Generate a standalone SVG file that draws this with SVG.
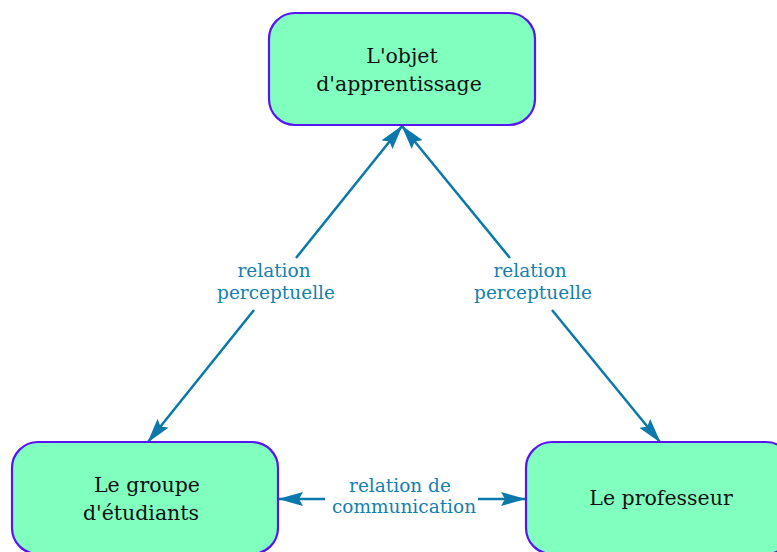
<svg xmlns="http://www.w3.org/2000/svg" width="777" height="552" viewBox="0 0 777 552">
<style>
.node rect{fill:#80ffbf;stroke:#5a14f0;stroke-width:2.2}
.node text{font-family:"DejaVu Serif","Liberation Serif",serif;font-size:20.5px;fill:#111;text-anchor:middle}
.edge{stroke:#0a78aa;stroke-width:2.5;fill:none}
.lbl{font-family:"DejaVu Serif","Liberation Serif",serif;font-size:18.5px;fill:#1580b0;text-anchor:middle}
</style>
<defs>
<marker id="ah" viewBox="0 0 25 14" refX="24" refY="7" markerWidth="25" markerHeight="14" markerUnits="userSpaceOnUse" orient="auto-start-reverse">
<path d="M0,0 L25,7 L0,14 L4,7 z" fill="#0a78aa"/>
</marker>
</defs>
<rect width="777" height="552" fill="#fff"/>
<g id="connectors">
<line class="edge" x1="402" y1="126" x2="296" y2="258" marker-start="url(#ah)"/>
<line class="edge" x1="254" y1="310" x2="148" y2="442" marker-end="url(#ah)"/>
<line class="edge" x1="402" y1="126" x2="510" y2="258" marker-start="url(#ah)"/>
<line class="edge" x1="552" y1="310" x2="660" y2="442" marker-end="url(#ah)"/>
<line class="edge" x1="279" y1="499" x2="325" y2="499" marker-start="url(#ah)"/>
<line class="edge" x1="478" y1="499" x2="525" y2="499" marker-end="url(#ah)"/>
<text class="lbl" x="274" y="277">relation</text>
<text class="lbl" x="276" y="299">perceptuelle</text>
<text class="lbl" x="530" y="277">relation</text>
<text class="lbl" x="533" y="299">perceptuelle</text>
<text class="lbl" x="400" y="492">relation de</text>
<text class="lbl" x="404" y="513">communication</text>
</g>
<g id="objet" class="node">
<rect x="269" y="13" width="266" height="112" rx="26"/>
<text x="402" y="63">L'objet</text>
<text x="399" y="91">d'apprentissage</text>
</g>
<g id="groupe" class="node">
<rect x="12" y="442" width="266" height="112" rx="26"/>
<text x="147" y="492">Le groupe</text>
<text x="141" y="520">d'étudiants</text>
</g>
<g id="professeur" class="node">
<rect x="526" y="442" width="266" height="112" rx="26"/>
<text x="661" y="505">Le professeur</text>
</g>
</svg>
